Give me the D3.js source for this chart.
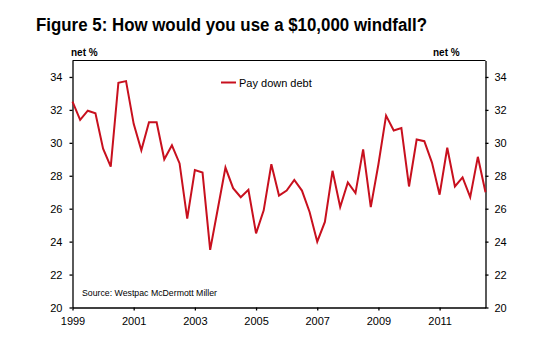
<!DOCTYPE html>
<html><head><meta charset="utf-8">
<script src="https://cdn.jsdelivr.net/npm/d3@7"></script>
<style>body{margin:0;background:#fff}svg{display:block}</style>
</head><body>
<svg id="c" width="550" height="350"></svg>
<script>
const startYear = 1999;
const stepYears = 0.25;
const payDownDebt = [32.5,31.4,31.95,31.8,29.65,28.55,33.65,33.75,31.15,29.55,31.25,31.25,
29.0,29.85,28.75,25.4,28.35,28.2,23.5,26.0,28.5,27.25,26.7,27.15,24.5,25.9,28.7,26.8,
27.1,27.75,27.1,25.8,24.0,25.2,28.3,26.1,27.6,26.95,29.6,26.1,28.7,31.65,30.75,30.9,
27.35,30.2,30.1,28.8,26.85,29.7,27.35,27.9,26.7,29.15,27.0];
const yTicks = [20,22,24,26,28,30,32,34];
const xTicks = [1999,2001,2003,2005,2007,2009,2011];

const svg = d3.select("#c");
const L = 72.5, R = 485.5, T = 60.5, B = 307.5;
const x = d3.scaleLinear().domain([1999, 2012.5]).range([L, R]);
const y = d3.scaleLinear().domain([20, 35]).range([B, T]);
const font = "'Liberation Sans', Arial, sans-serif";

svg.append("text").attr("x",36).attr("y",31).attr("font-family",font)
  .attr("font-weight","bold").attr("font-size",17.5).attr("fill","#000")
  .attr("textLength",391).attr("lengthAdjust","spacingAndGlyphs")
  .text("Figure 5: How would you use a $10,000 windfall?");
svg.append("text").attr("x",71).attr("y",56).attr("font-family",font)
  .attr("font-weight","bold").attr("font-size",10).text("net %");
svg.append("text").attr("x",433).attr("y",56).attr("font-family",font)
  .attr("font-weight","bold").attr("font-size",10).text("net %");

// top border
svg.append("line").attr("x1",L).attr("x2",R).attr("y1",T).attr("y2",T)
  .attr("stroke","#000").attr("stroke-width",1);

function styleAxis(g){
  g.select(".domain").attr("stroke","#000").attr("stroke-width",1.3);
  g.selectAll(".tick line").attr("stroke","#000").attr("stroke-width",1.3);
  g.selectAll("text").attr("font-family",font).attr("font-size",11).attr("fill","#000");
}
svg.append("g").attr("transform",`translate(${L},0)`)
  .call(d3.axisLeft(y).tickValues(yTicks).tickSize(3).tickPadding(7).tickSizeOuter(0))
  .call(styleAxis);
svg.append("g").attr("transform",`translate(${R},0)`)
  .call(d3.axisRight(y).tickValues(yTicks).tickSize(3).tickPadding(6).tickSizeOuter(0))
  .call(styleAxis);
svg.append("g").attr("transform",`translate(0,${B})`)
  .call(d3.axisBottom(x).tickValues(xTicks).tickFormat(d3.format("d")).tickSize(3).tickPadding(7).tickSizeOuter(0))
  .call(styleAxis);

const line = d3.line().x((d,i)=>x(startYear + i*stepYears)).y(d=>y(d));
svg.append("path").datum(payDownDebt).attr("d",line).attr("fill","none")
  .attr("stroke","#c8101e").attr("stroke-width",2).attr("stroke-linejoin","miter");

// legend
svg.append("line").attr("x1",221).attr("x2",236).attr("y1",82.5).attr("y2",82.5)
  .attr("stroke","#c8101e").attr("stroke-width",2);
svg.append("text").attr("x",239).attr("y",86.5).attr("font-family",font)
  .attr("font-size",11).attr("fill","#000").text("Pay down debt");

svg.append("text").attr("x",82).attr("y",296).attr("font-family",font)
  .attr("font-size",9).attr("fill","#000").attr("textLength",135)
  .attr("lengthAdjust","spacingAndGlyphs").text("Source: Westpac McDermott Miller");
</script>
</body></html>
